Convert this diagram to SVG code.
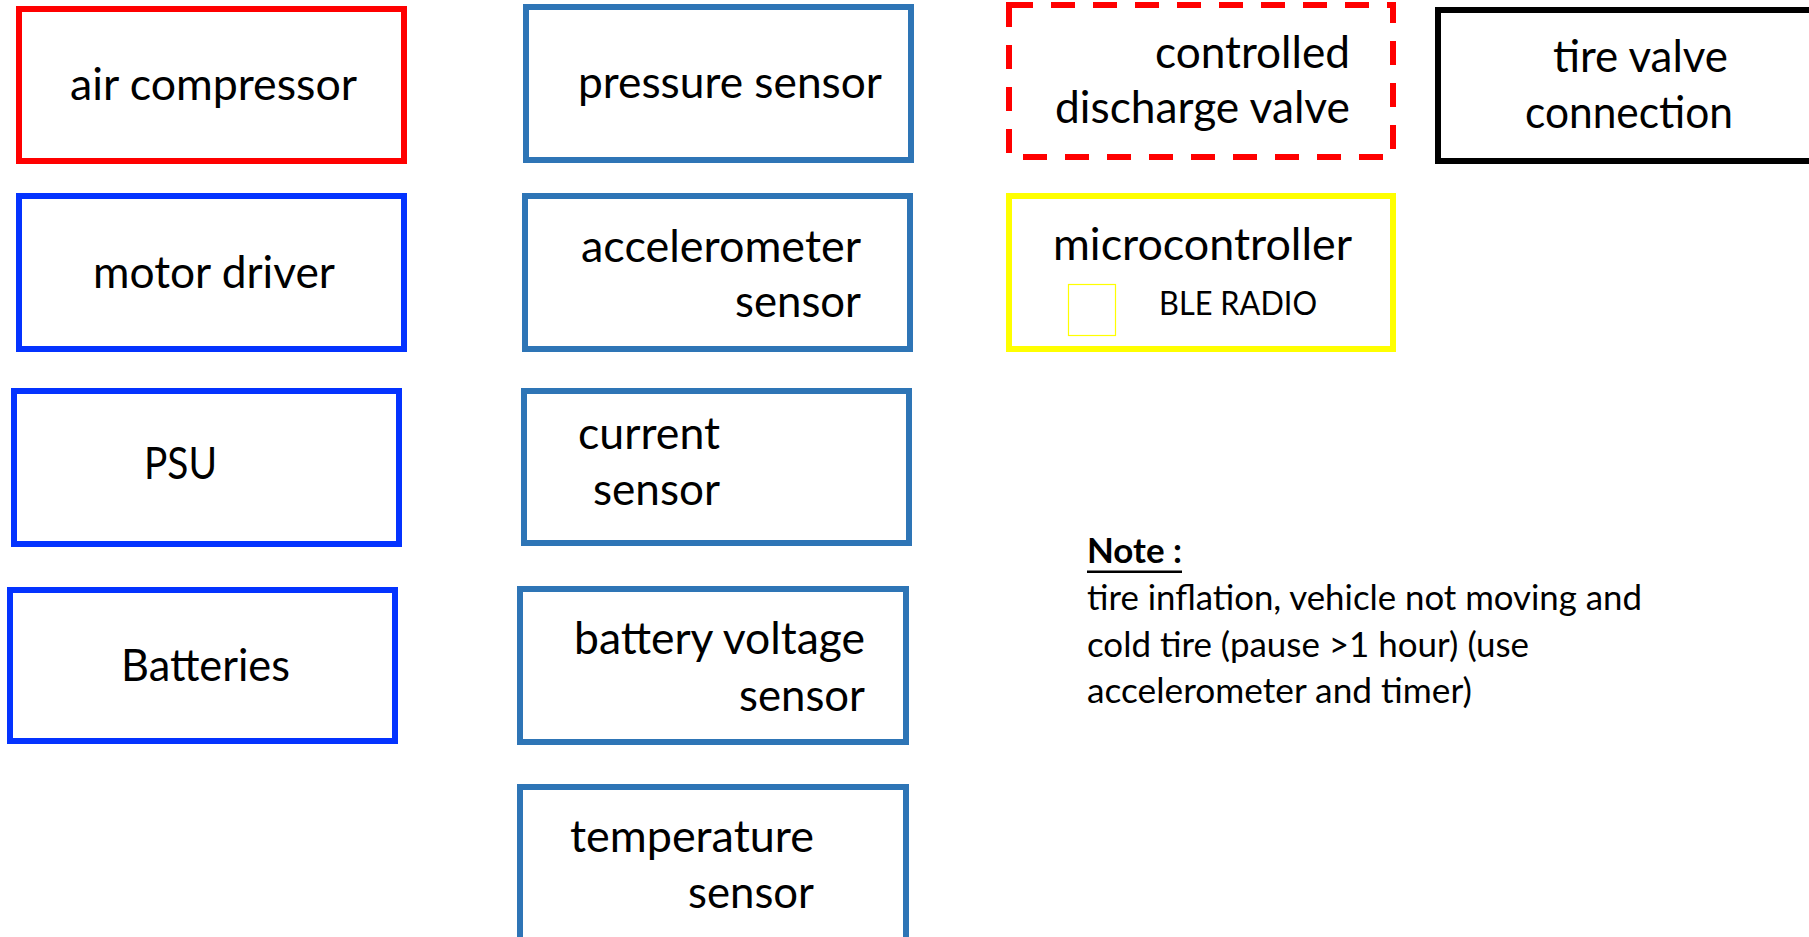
<svg xmlns="http://www.w3.org/2000/svg" width="1809" height="937" viewBox="0 0 1809 937">
<style>
  .box{fill:#ffffff;stroke-width:6}
  .red{stroke:#FF0000}
  .blue{stroke:#0433FF}
  .steel{stroke:#2E75B6}
  .yellow{stroke:#FFFF00}
  .black{stroke:#000000}
  .dash{stroke-dasharray:24 18}
  .t{font-family:Lato,"Open Sans","Liberation Sans",sans-serif;font-size:45px;fill:#000000}
  .s{font-family:Lato,"Open Sans","Liberation Sans",sans-serif;font-size:32px;fill:#000000}
  .n{font-family:Lato,"Open Sans","Liberation Sans",sans-serif;font-size:34px;fill:#000000}
</style>
<rect width="1809" height="937" fill="#ffffff"/>
<g id="connectors"></g>

<g id="air-compressor">
  <rect class="box red" x="19" y="9" width="385" height="152"/>
  <text class="t" x="70" y="100" textLength="287" lengthAdjust="spacingAndGlyphs">air compressor</text>
</g>
<g id="motor-driver">
  <rect class="box blue" x="19" y="196" width="385" height="153"/>
  <text class="t" x="93" y="288" textLength="242" lengthAdjust="spacingAndGlyphs">motor driver</text>
</g>
<g id="psu">
  <rect class="box blue" x="14" y="391" width="385" height="153"/>
  <text class="t" x="144" y="479" textLength="73" lengthAdjust="spacingAndGlyphs">PSU</text>
</g>
<g id="batteries">
  <rect class="box blue" x="10" y="590" width="385" height="151"/>
  <text class="t" x="121" y="681" textLength="169" lengthAdjust="spacingAndGlyphs">Batteries</text>
</g>

<g id="pressure-sensor">
  <rect class="box steel" x="526" y="7" width="385" height="153"/>
  <text class="t" x="578" y="98" textLength="304" lengthAdjust="spacingAndGlyphs">pressure sensor</text>
</g>
<g id="accelerometer-sensor">
  <rect class="box steel" x="525" y="196" width="385" height="153"/>
  <text class="t" x="581" y="262" textLength="280" lengthAdjust="spacingAndGlyphs">accelerometer</text>
  <text class="t" x="735" y="317" textLength="126" lengthAdjust="spacingAndGlyphs">sensor</text>
</g>
<g id="current-sensor">
  <rect class="box steel" x="524" y="391" width="385" height="152"/>
  <text class="t" x="578" y="449" textLength="142" lengthAdjust="spacingAndGlyphs">current</text>
  <text class="t" x="593" y="505" textLength="127" lengthAdjust="spacingAndGlyphs">sensor</text>
</g>
<g id="battery-voltage-sensor">
  <rect class="box steel" x="520" y="589" width="386" height="153"/>
  <text class="t" x="574" y="654" textLength="291" lengthAdjust="spacingAndGlyphs">battery voltage</text>
  <text class="t" x="739" y="711" textLength="126" lengthAdjust="spacingAndGlyphs">sensor</text>
</g>
<g id="temperature-sensor">
  <rect class="box steel" x="520" y="787" width="386" height="170"/>
  <text class="t" x="570" y="852" textLength="244" lengthAdjust="spacingAndGlyphs">temperature</text>
  <text class="t" x="688" y="908" textLength="126" lengthAdjust="spacingAndGlyphs">sensor</text>
</g>

<g id="controlled-discharge-valve">
  <rect class="box red dash" x="1009" y="5" width="384" height="152"/>
  <text class="t" x="1155" y="68" textLength="195" lengthAdjust="spacingAndGlyphs">controlled</text>
  <text class="t" x="1055" y="123" textLength="295" lengthAdjust="spacingAndGlyphs">discharge valve</text>
</g>
<g id="microcontroller">
  <rect class="box yellow" x="1009" y="196" width="384" height="153"/>
  <text class="t" x="1053" y="260" textLength="299" lengthAdjust="spacingAndGlyphs">microcontroller</text>
  <rect x="1068.5" y="284.5" width="47" height="51" fill="none" stroke="#FFFF00" stroke-width="1.2"/>
  <text class="s" x="1159" y="315" textLength="158" lengthAdjust="spacingAndGlyphs">BLE RADIO</text>
</g>
<g id="tire-valve-connection">
  <rect class="box black" x="1438" y="10" width="385" height="151"/>
  <text class="t" x="1553" y="72" textLength="175" lengthAdjust="spacingAndGlyphs">tire valve</text>
  <text class="t" x="1525" y="128" textLength="208" lengthAdjust="spacingAndGlyphs">connection</text>
</g>

<g id="note">
  <text class="n" x="1087" y="563" font-weight="bold" textLength="95" lengthAdjust="spacingAndGlyphs">Note :</text>
  <rect x="1087" y="570.5" width="95" height="2.5" fill="#000000"/>
  <text class="n" x="1087" y="610" textLength="555" lengthAdjust="spacingAndGlyphs">tire inflation, vehicle not moving and</text>
  <text class="n" x="1087" y="657" textLength="442" lengthAdjust="spacingAndGlyphs">cold tire (pause &gt;1 hour) (use</text>
  <text class="n" x="1087" y="703" textLength="385" lengthAdjust="spacingAndGlyphs">accelerometer and timer)</text>
</g>
</svg>
